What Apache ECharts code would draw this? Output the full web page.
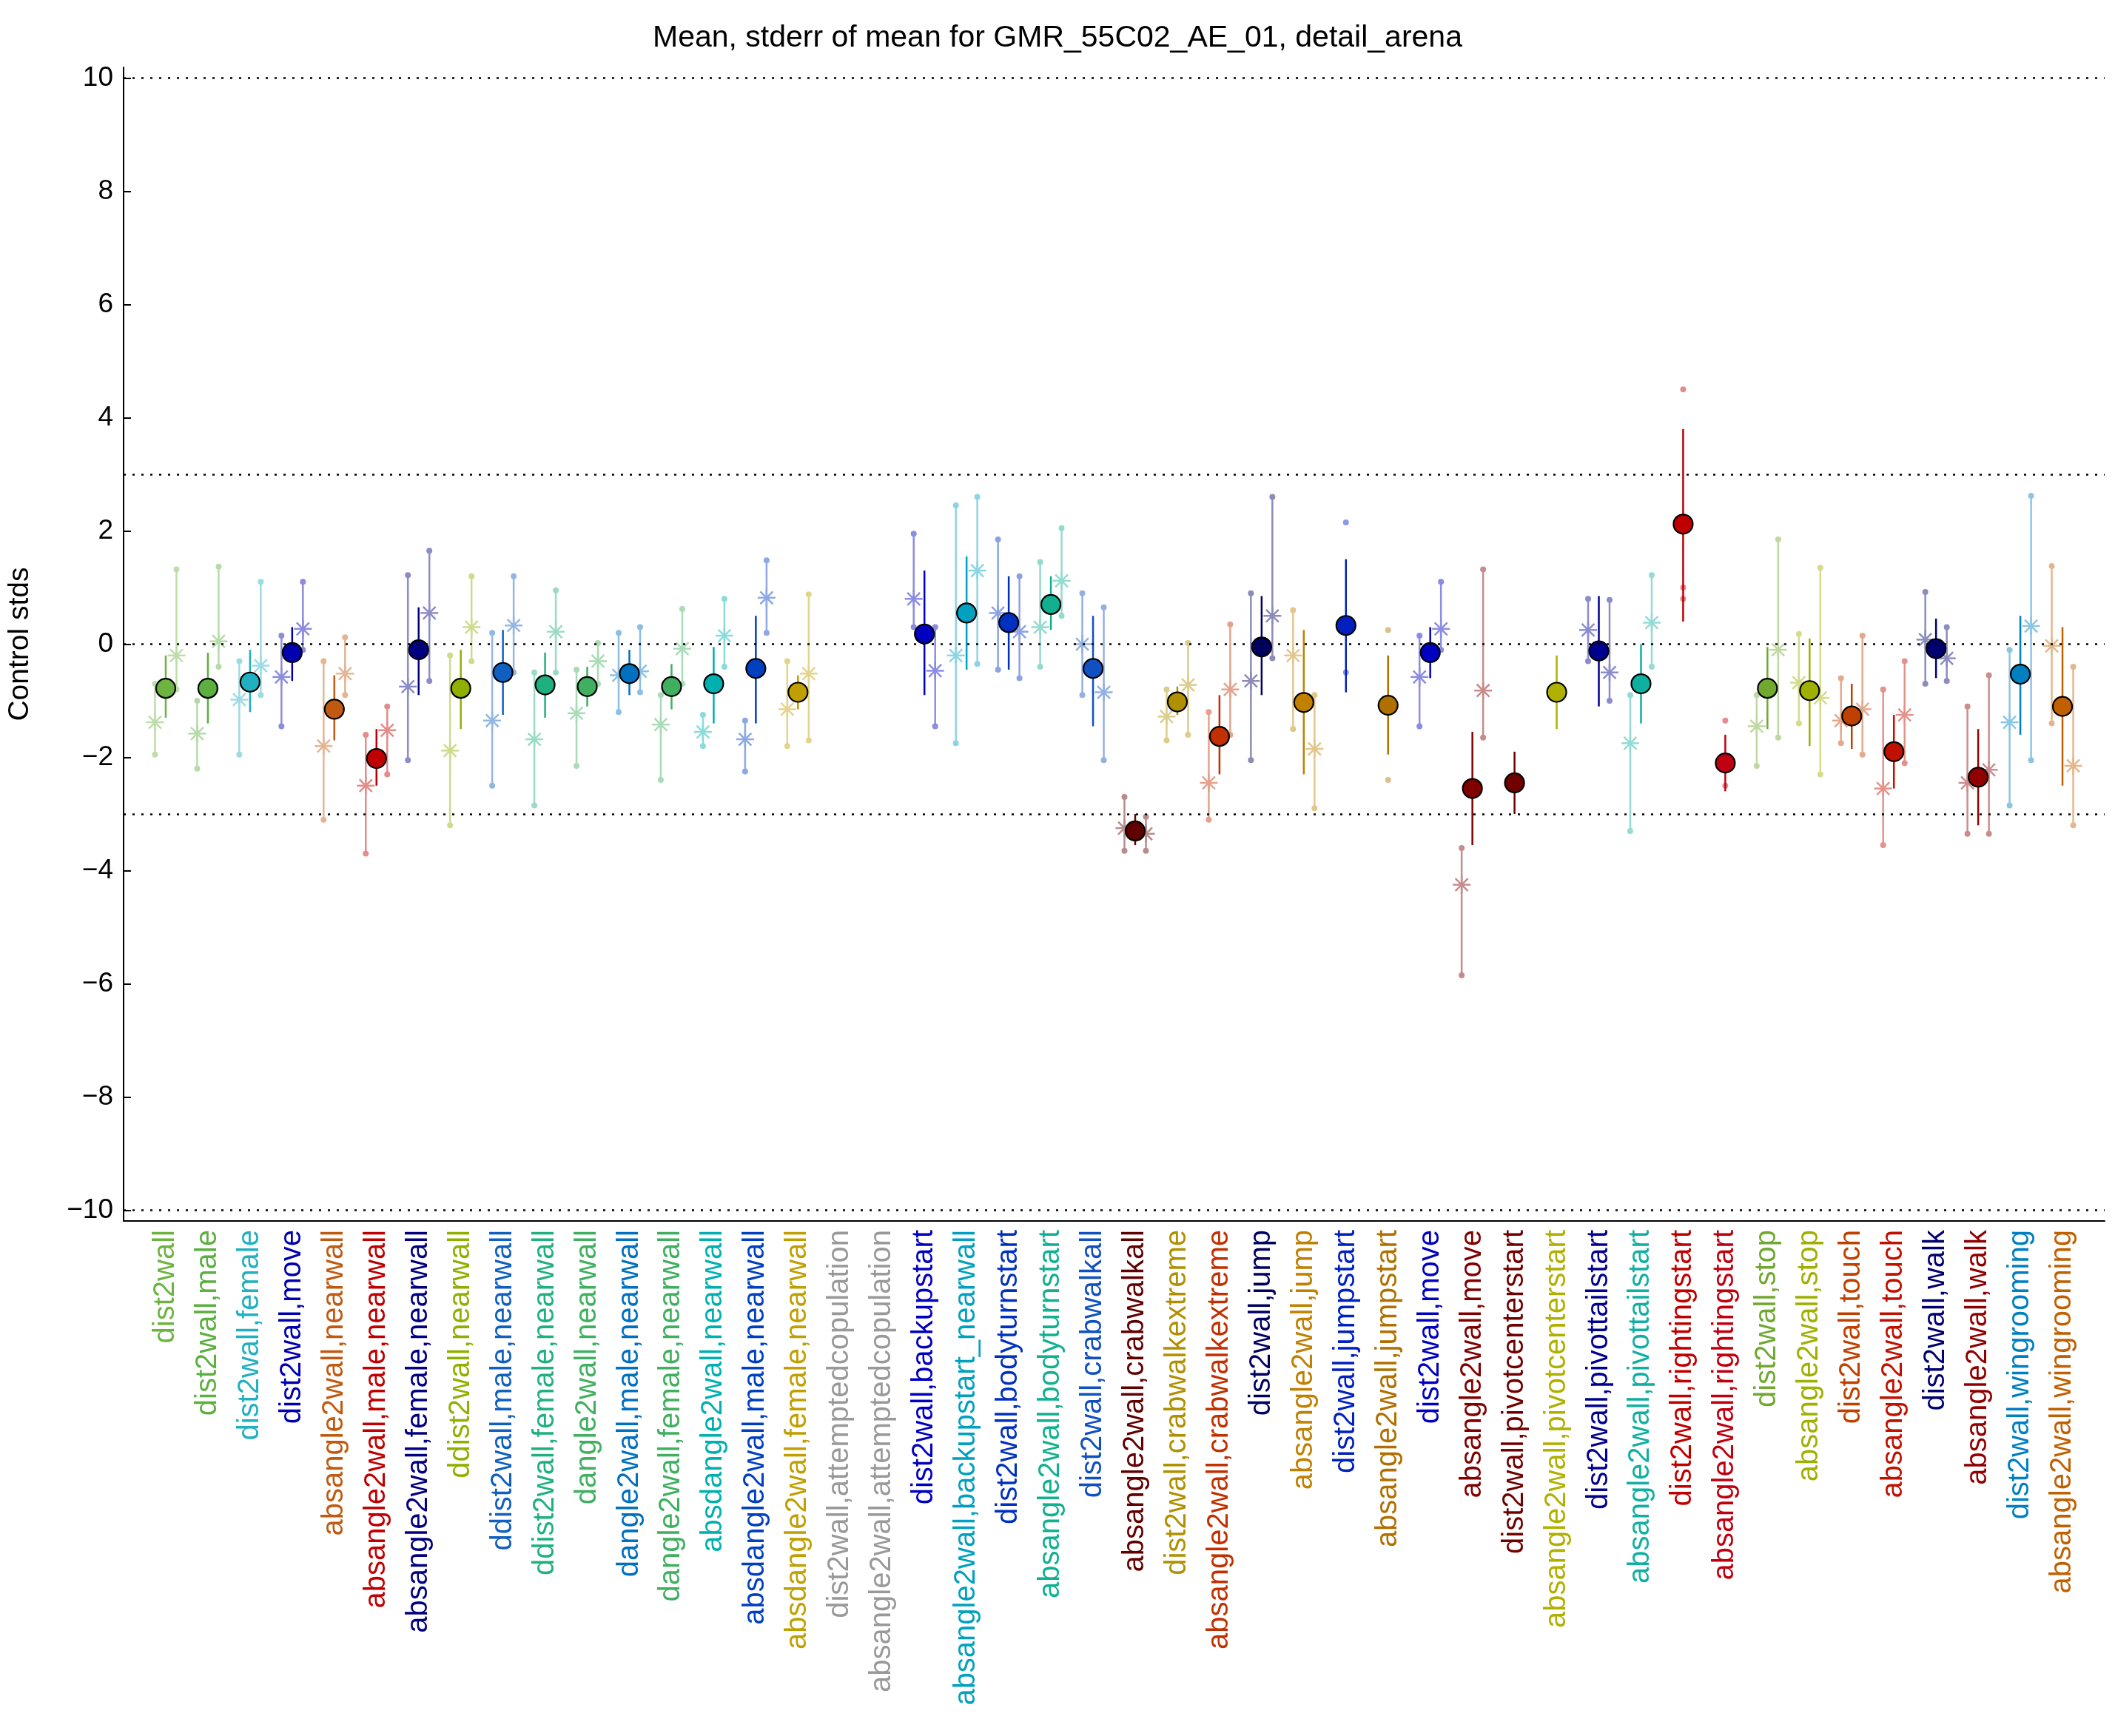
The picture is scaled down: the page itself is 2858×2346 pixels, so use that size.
<!DOCTYPE html>
<html><head><meta charset="utf-8">
<script src="https://cdn.jsdelivr.net/npm/echarts@6/dist/echarts.min.js"></script>
<style>html,body{margin:0;padding:0;background:#fff}#c{width:2858px;height:2346px}</style>
</head><body><div id="c"></div>
<script>
var categories=['dist2wall','dist2wall,male','dist2wall,female','dist2wall,move','absangle2wall,nearwall','absangle2wall,male,nearwall','absangle2wall,female,nearwall','ddist2wall,nearwall','ddist2wall,male,nearwall','ddist2wall,female,nearwall','dangle2wall,nearwall','dangle2wall,male,nearwall','dangle2wall,female,nearwall','absdangle2wall,nearwall','absdangle2wall,male,nearwall','absdangle2wall,female,nearwall','dist2wall,attemptedcopulation','absangle2wall,attemptedcopulation','dist2wall,backupstart','absangle2wall,backupstart_nearwall','dist2wall,bodyturnstart','absangle2wall,bodyturnstart','dist2wall,crabwalkall','absangle2wall,crabwalkall','dist2wall,crabwalkextreme','absangle2wall,crabwalkextreme','dist2wall,jump','absangle2wall,jump','dist2wall,jumpstart','absangle2wall,jumpstart','dist2wall,move','absangle2wall,move','dist2wall,pivotcenterstart','absangle2wall,pivotcenterstart','dist2wall,pivottailstart','absangle2wall,pivottailstart','dist2wall,rightingstart','absangle2wall,rightingstart','dist2wall,stop','absangle2wall,stop','dist2wall,touch','absangle2wall,touch','dist2wall,walk','absangle2wall,walk','dist2wall,wingrooming','absangle2wall,wingrooming'];
var colors=['#6db33f','#5cb040','#20b0c0','#0000b0','#c05a10','#c00000','#000080','#90b000','#1060c0','#20b080','#40b060','#0070c0','#40b060','#00b0b0','#0040c0','#c0a000','#999999','#999999','#0000c0','#00a0c0','#0030c0','#10b090','#1050c0','#600000','#b09000','#c03000','#000060','#c08000','#0020c0','#b07000','#0000c0','#800000','#700000','#b0b000','#000090','#10b0a0','#c00000','#c00010','#70a830','#a0b000','#c04000','#c01000','#000070','#900000','#0080c0','#c06000'];
var means=[-0.78,-0.78,-0.67,-0.15,-1.15,-2.02,-0.1,-0.78,-0.5,-0.72,-0.75,-0.52,-0.75,-0.7,-0.43,-0.85,null,null,0.18,0.55,0.38,0.7,-0.43,-3.3,-1.02,-1.63,-0.05,-1.03,0.33,-1.08,-0.15,-2.55,-2.45,-0.85,-0.12,-0.7,2.12,-2.1,-0.78,-0.82,-1.27,-1.9,-0.08,-2.35,-0.53,-1.1];
var meanLo=[-1.3,-1.4,-1.2,-0.65,-1.7,-2.5,-0.9,-1.5,-1.25,-1.3,-1.1,-0.9,-1.15,-1.4,-1.4,-1.15,null,null,-0.9,-0.45,-0.45,0.25,-1.45,-3.55,-1.25,-2.3,-0.9,-2.3,-0.85,-1.95,-0.6,-3.55,-3.0,-1.5,-1.1,-1.4,0.4,-2.6,-1.5,-1.8,-1.85,-2.55,-0.6,-3.2,-1.6,-2.5];
var meanHi=[-0.2,-0.15,-0.1,0.3,-0.55,-1.5,0.65,-0.1,0.25,-0.15,-0.4,-0.1,-0.35,-0.05,0.5,-0.55,null,null,1.3,1.55,1.2,1.2,0.5,-3.0,-0.75,-0.9,0.85,0.25,1.5,-0.2,0.3,-1.55,-1.9,-0.2,0.85,0.0,3.8,-1.6,-0.05,0.1,-0.7,-1.25,0.45,-1.5,0.5,0.3];
var starL=[-1.38,-1.58,-0.98,-0.58,-1.8,-2.5,-0.75,-1.88,-1.35,-1.68,-1.22,-0.55,-1.42,-1.55,-1.68,-1.15,null,null,0.8,-0.2,0.55,0.3,0,-3.25,-1.28,-2.45,-0.65,-0.2,null,null,-0.58,-4.25,null,null,0.25,-1.75,null,null,-1.45,-0.68,-1.35,-2.55,0.08,-2.45,-1.38,-0.03];
var starLLo=[-1.95,-2.2,-1.95,-1.45,-3.1,-3.7,-2.05,-3.2,-2.5,-2.85,-2.15,-1.2,-2.4,-1.8,-2.25,-1.8,null,null,0.3,-1.75,-0.45,-0.4,-0.9,-3.65,-1.7,-3.1,-2.05,-1.5,null,null,-1.45,-5.85,null,null,-0.3,-3.3,null,null,-2.15,-1.4,-1.75,-3.55,-0.7,-3.35,-2.85,-1.4];
var starLHi=[-0.7,-1.0,-0.3,0.15,-0.3,-1.6,1.22,-0.2,0.2,-0.5,-0.45,0.2,-0.9,-1.25,-1.35,-0.3,null,null,1.95,2.45,1.85,1.45,0.9,-2.7,-0.8,-1.2,0.9,0.6,null,null,0.15,-3.6,null,null,0.8,-0.9,null,null,-0.9,0.18,-0.6,-0.8,0.92,-1.1,-0.1,1.38];
var starR=[-0.2,0.05,-0.38,0.27,-0.52,-1.52,0.55,0.3,0.33,0.22,-0.3,-0.48,-0.08,0.15,0.82,-0.52,null,null,-0.47,1.3,0.22,1.12,-0.85,-3.35,-0.72,-0.8,0.5,-1.85,null,null,0.27,-0.82,null,null,-0.5,0.38,null,null,-0.1,-0.95,-1.15,-1.25,-0.25,-2.22,0.32,-2.15];
var starRLo=[-0.8,-0.4,-0.9,-0.1,-0.9,-2.3,-0.65,-0.3,-0.5,-0.5,-0.7,-0.85,-0.7,-0.4,0.2,-1.7,null,null,-1.45,-0.35,-0.6,0.5,-2.05,-3.65,-1.6,-1.6,-0.25,-2.9,null,null,-0.1,-1.65,null,null,-1.0,-0.4,null,null,-1.65,-2.3,-1.95,-2.1,-0.65,-3.35,-2.05,-3.2];
var starRHi=[1.32,1.37,1.1,1.1,0.12,-1.1,1.65,1.2,1.2,0.95,0.02,0.3,0.62,0.8,1.48,0.88,null,null,0.3,2.6,1.2,2.05,0.65,-3.05,0.02,0.35,2.6,-0.9,null,null,1.1,1.32,null,null,0.78,1.22,null,null,1.85,1.35,0.15,-0.3,0.3,-0.55,2.62,-0.4];
var extraDots=[[],[],[],[],[],[],[],[],[],[],[],[],[],[],[],[],[],[],[],[],[],[],[],[],[],[],[],[],[-0.5,2.15],[-2.4,0.25],[],[],[],[],[],[],[4.5,1.0,0.8],[-2.5,-1.35],[],[],[],[],[],[],[],[]];
var yTicks=[-10,-8,-6,-4,-2,0,2,4,6,8,10];
var refLines=[10,3,0,-3,-10];

var axisCats=[''].concat(categories).concat(['']);
var chart=echarts.init(document.getElementById('c'));
var data=categories.map(function(c,i){return [i+1,i];});
function light(hex){var r=parseInt(hex.substr(1,2),16),g=parseInt(hex.substr(3,2),16),b=parseInt(hex.substr(5,2),16);
 var f=0.55;return 'rgb('+Math.round(r+(255-r)*f)+','+Math.round(g+(255-g)*f)+','+Math.round(b+(255-b)*f)+')';}
function renderItem(params,api){
 var xi=api.value(0),i=api.value(1);var col=colors[i],lc=light(col);
 var ch=[];var off=14.5;
 function P(dx,v){var p=api.coord([xi,v]);return [p[0]+dx,p[1]];}
 function bar(dx,lo,hi,c,w){var a=P(dx,lo),b=P(dx,hi);ch.push({type:'line',shape:{x1:a[0],y1:a[1],x2:b[0],y2:b[1]},style:{stroke:c,lineWidth:w}});}
 function dot(dx,v,c){var a=P(dx,v);ch.push({type:'circle',shape:{cx:a[0],cy:a[1],r:4},style:{fill:c}});}
 function star(dx,v,c){var a=P(dx,v);var r=12;
  [[0,1],[1,0],[0.707,0.707],[0.707,-0.707]].forEach(function(d){ch.push({type:'line',shape:{x1:a[0]-d[0]*r,y1:a[1]-d[1]*r,x2:a[0]+d[0]*r,y2:a[1]+d[1]*r},style:{stroke:c,lineWidth:2.5}});});}
 if(starL[i]!=null){bar(-off,starLLo[i],starLHi[i],lc,2.5);dot(-off,starLLo[i],lc);dot(-off,starLHi[i],lc);}
 if(starR[i]!=null){bar(off,starRLo[i],starRHi[i],lc,2.5);dot(off,starRLo[i],lc);dot(off,starRHi[i],lc);}
 extraDots[i].forEach(function(v){dot(0,v,lc);});
 if(starL[i]!=null)star(-off,starL[i],lc);
 if(starR[i]!=null)star(off,starR[i],lc);
 if(means[i]!=null){bar(0,meanLo[i],meanHi[i],col,2.5);var m=P(0,means[i]);
  ch.push({type:'circle',shape:{cx:m[0],cy:m[1],r:13},style:{fill:col,stroke:'#000',lineWidth:2.2}});}
 return {type:'group',children:ch};
}
chart.setOption({
 animation:false,backgroundColor:'#fff',
 title:{text:'Mean, stderr of mean for GMR_55C02_AE_01, detail_arena',left:'center',top:26,textStyle:{fontFamily:'Liberation Sans',fontWeight:'normal',fontSize:41,color:'#000'}},
 grid:{left:160,right:14,top:91,bottom:696,containLabel:false},
 xAxis:{type:'category',data:axisCats,boundaryGap:false,axisLine:{onZero:false,lineStyle:{color:'#000',width:2}},axisTick:{show:false},
  axisLabel:{interval:0,rotate:90,fontFamily:'Liberation Sans',fontSize:40,margin:12,
   color:function(v,idx){return idx>=1&&idx<=categories.length?colors[idx-1]:'#000';}},splitLine:{show:false}},
 yAxis:{type:'value',min:-10.19,max:10.19,name:'Control stds',nameLocation:'middle',nameGap:120,nameTextStyle:{fontFamily:'Liberation Sans',fontSize:39,color:'#000'},
  axisLine:{show:true,lineStyle:{color:'#000',width:2}},
  axisTick:{show:true,inside:true,length:10,customValues:yTicks,lineStyle:{color:'#000',width:2}},
  axisLabel:{customValues:yTicks,fontFamily:'Liberation Sans',fontSize:37,color:'#000',margin:14,formatter:function(v){return v<0?'\u2212'+(-v):''+v;}},
  splitLine:{show:false}},
 series:[{type:'custom',renderItem:renderItem,data:data,z:3,
  markLine:{silent:true,symbol:'none',label:{show:false},lineStyle:{color:'#000',type:[3,9],width:2.5},data:refLines.map(function(v){return {yAxis:v};})}}]
});
</script></body></html>
